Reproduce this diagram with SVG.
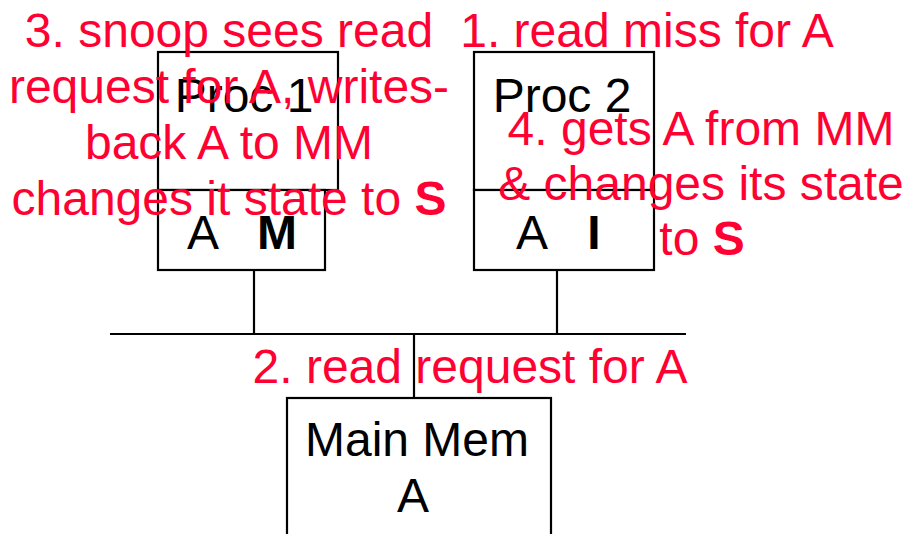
<svg xmlns="http://www.w3.org/2000/svg" width="907" height="534" viewBox="0 0 907 534">
<style>
.box{fill:#fff;stroke:#000;stroke-width:2.2}
.wire{stroke:#000;stroke-width:2.2;fill:none}
.lbl{font-family:"Liberation Sans",Arial,sans-serif;font-size:48px;fill:#000;text-anchor:middle}
.note{font-family:"Liberation Sans",Arial,sans-serif;font-size:48px;fill:#ff0033;text-anchor:middle}
.b{font-weight:bold}
</style>
<rect width="907" height="534" fill="#fff"/>
<g id="connectors">
<line class="wire" x1="110" y1="334" x2="686" y2="334"/>
<line class="wire" x1="254" y1="270" x2="254" y2="334"/>
<line class="wire" x1="557" y1="270" x2="557" y2="334"/>
<line class="wire" x1="414" y1="334" x2="414" y2="398"/>
</g>
<g id="proc1">
<rect class="box" x="158" y="52" width="180" height="138"/>
<rect class="box" x="158" y="190" width="167" height="80"/>
<text class="lbl" x="244" y="112">Proc 1</text>
<text class="lbl" x="203" y="249">A</text>
<text class="lbl b" x="277" y="249">M</text>
</g>
<g id="proc2">
<rect class="box" x="474" y="52" width="180" height="138"/>
<rect class="box" x="474" y="190" width="180" height="80"/>
<text class="lbl" x="562" y="112">Proc 2</text>
<text class="lbl" x="532" y="249">A</text>
<text class="lbl b" x="594" y="249">I</text>
</g>
<g id="mainmem">
<rect class="box" x="287" y="398" width="264" height="150"/>
<text class="lbl" x="417" y="456">Main Mem</text>
<text class="lbl" x="413" y="512">A</text>
</g>
<g id="notes">
<text class="note" x="229" y="47">3. snoop sees read</text>
<text class="note" x="229" y="103">request for A, writes-</text>
<text class="note" x="229" y="159">back A to MM</text>
<text class="note" x="229" y="215">changes it state to <tspan class="b">S</tspan></text>
<text class="note" x="647" y="47">1. read miss for A</text>
<text class="note" x="701" y="145">4. gets A from MM</text>
<text class="note" x="701" y="200">&amp; changes its state</text>
<text class="note" x="702" y="255">to <tspan class="b">S</tspan></text>
<text class="note" x="470" y="383">2. read request for A</text>
</g>
</svg>
